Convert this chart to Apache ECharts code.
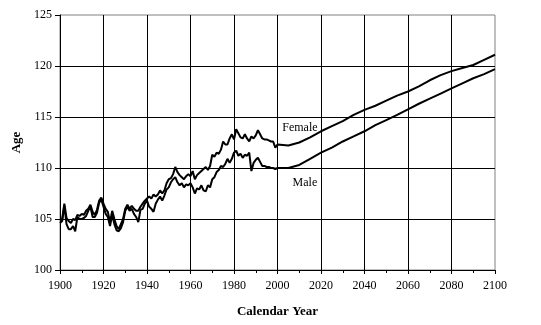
<!DOCTYPE html>
<html>
<head>
<meta charset="utf-8">
<script src="https://cdn.jsdelivr.net/npm/echarts@6/dist/echarts.min.js"></script>
<style>html,body{margin:0;padding:0;background:#fff}#c{width:541px;height:325px}</style>
</head>
<body>
<div id="c"></div>
<script>
// Historical yearly values 1900-2000, then projections every 5 years to 2100
var years = [];
for (var y = 1900; y <= 2000; y++) years.push(y);
var projYears = [2005,2010,2015,2020,2025,2030,2035,2040,2045,2050,2055,2060,2065,2070,2075,2080,2085,2090,2095,2100];
years = years.concat(projYears);

var female = [
104.9,105.0,106.5,105.1,104.8,104.6,105.0,104.9,105.4,105.3,
105.5,105.4,105.8,106.0,106.4,105.7,105.4,105.9,106.8,107.1,
106.5,106.0,105.7,104.7,105.8,105.0,104.3,104.0,104.5,105.0,
106.0,106.4,106.0,106.3,106.0,105.8,105.8,106.2,106.5,106.8,
107.0,107.2,107.0,107.4,107.2,107.4,107.8,107.5,107.8,108.5,
108.9,109.0,109.4,110.1,109.6,109.3,109.1,108.9,109.2,109.4,
109.2,109.7,108.9,109.3,109.5,109.7,109.9,110.1,109.8,110.2,
111.3,111.1,111.5,111.4,111.8,112.6,112.3,112.3,112.9,113.3,
112.8,113.8,113.4,113.0,112.9,113.3,112.9,112.6,113.1,112.9,
113.2,113.7,113.3,112.9,112.8,112.8,112.7,112.6,112.6,112.0,
112.3,
112.2,112.5,113.0,113.6,114.1,114.6,115.2,115.7,116.1,116.6,
117.1,117.5,118.0,118.6,119.1,119.5,119.8,120.1,120.6,121.1
];
var male = [
104.6,104.8,106.3,104.5,104.0,104.0,104.3,103.8,105.2,105.0,
105.0,105.1,105.3,105.8,106.2,105.2,105.2,105.6,106.6,106.9,
106.2,105.5,105.2,104.3,105.4,104.5,103.9,103.8,104.1,104.7,
105.8,106.2,105.8,106.0,105.5,105.2,104.7,105.9,106.0,106.5,
106.8,106.2,106.0,105.7,106.5,106.9,107.2,106.8,107.3,107.9,
108.1,108.6,108.9,109.1,108.6,108.3,108.5,108.1,108.4,108.3,
108.5,108.1,107.5,108.0,107.9,108.3,107.8,107.7,108.3,108.1,
108.9,109.1,109.6,109.8,110.2,110.1,110.4,110.9,110.5,110.9,
111.5,111.7,111.2,111.4,111.0,111.3,111.2,111.5,109.7,110.5,
110.8,111.0,110.6,110.2,110.2,110.1,110.1,110.0,110.0,109.9,
110.0,
110.0,110.3,110.9,111.5,112.0,112.6,113.1,113.6,114.2,114.7,
115.2,115.75,116.3,116.8,117.3,117.8,118.3,118.8,119.2,119.7
];
var seriesNames = ['Female','Male'];
var labelAnchors = [[2010.3, 113.9],[2012.6, 108.5]];
var xTicks = [1900,1920,1940,1960,1980,2000,2020,2040,2060,2080,2100];
var yTicks = [100,105,110,115,120,125];

function pairs(vals){ return years.map(function(y,i){return [y, vals[i]];}); }
var font = '"Liberation Serif","Times New Roman",serif';

var chart = echarts.init(document.getElementById('c'), null, {renderer:'canvas'});
function mkSeries(name, vals, anchor){
  return {
    name: name, type: 'line', data: pairs(vals), showSymbol: false, symbol: 'none',
    lineStyle: {color: '#000', width: 2}, animation: false,
    markPoint: {
      symbol: 'circle', symbolSize: 0, silent: true,
      data: [{coord: anchor, value: name}],
      label: {show: true, position: 'inside', formatter: name, color: '#000',
              fontFamily: font, fontSize: 12}
    }
  };
}
chart.setOption({
  animation: false,
  backgroundColor: '#fff',
  grid: {left: 60, right: 46, top: 15, bottom: 55, show: true, borderColor: '#808080', borderWidth: 1},
  xAxis: {
    type: 'value', min: xTicks[0], max: xTicks[xTicks.length-1], interval: 20,
    name: 'Calendar Year', nameLocation: 'middle', nameGap: 35,
    nameTextStyle: {fontFamily: font, fontSize: 13, fontWeight: 'bold', color: '#000'},
    axisLine: {show: true, lineStyle: {color: '#000', width: 1}},
    axisTick: {show: true, length: 4, lineStyle: {color: '#000'}},
    minorTick: {show: true, splitNumber: 2, length: 3, lineStyle: {color: '#000'}},
    axisLabel: {fontFamily: font, fontSize: 12, color: '#000', margin: 10,
      formatter: function(v){ return xTicks.indexOf(v) >= 0 ? String(v) : ''; }},
    splitLine: {show: true, showMinLine: false, showMaxLine: false, lineStyle: {color: '#000', width: 1}}
  },
  yAxis: {
    type: 'value', min: yTicks[0], max: yTicks[yTicks.length-1], interval: 5,
    name: 'Age', nameLocation: 'middle', nameGap: 36,
    nameTextStyle: {fontFamily: font, fontSize: 13, fontWeight: 'bold', color: '#000'},
    axisLine: {show: true, lineStyle: {color: '#000', width: 1}},
    axisTick: {show: true, length: 5, lineStyle: {color: '#000'}},
    axisLabel: {fontFamily: font, fontSize: 12, color: '#000', margin: 8},
    splitLine: {show: true, showMinLine: false, showMaxLine: false, lineStyle: {color: '#000', width: 1}}
  },
  series: [
    mkSeries(seriesNames[0], female, labelAnchors[0]),
    mkSeries(seriesNames[1], male, labelAnchors[1])
  ]
});
</script>
</body>
</html>
